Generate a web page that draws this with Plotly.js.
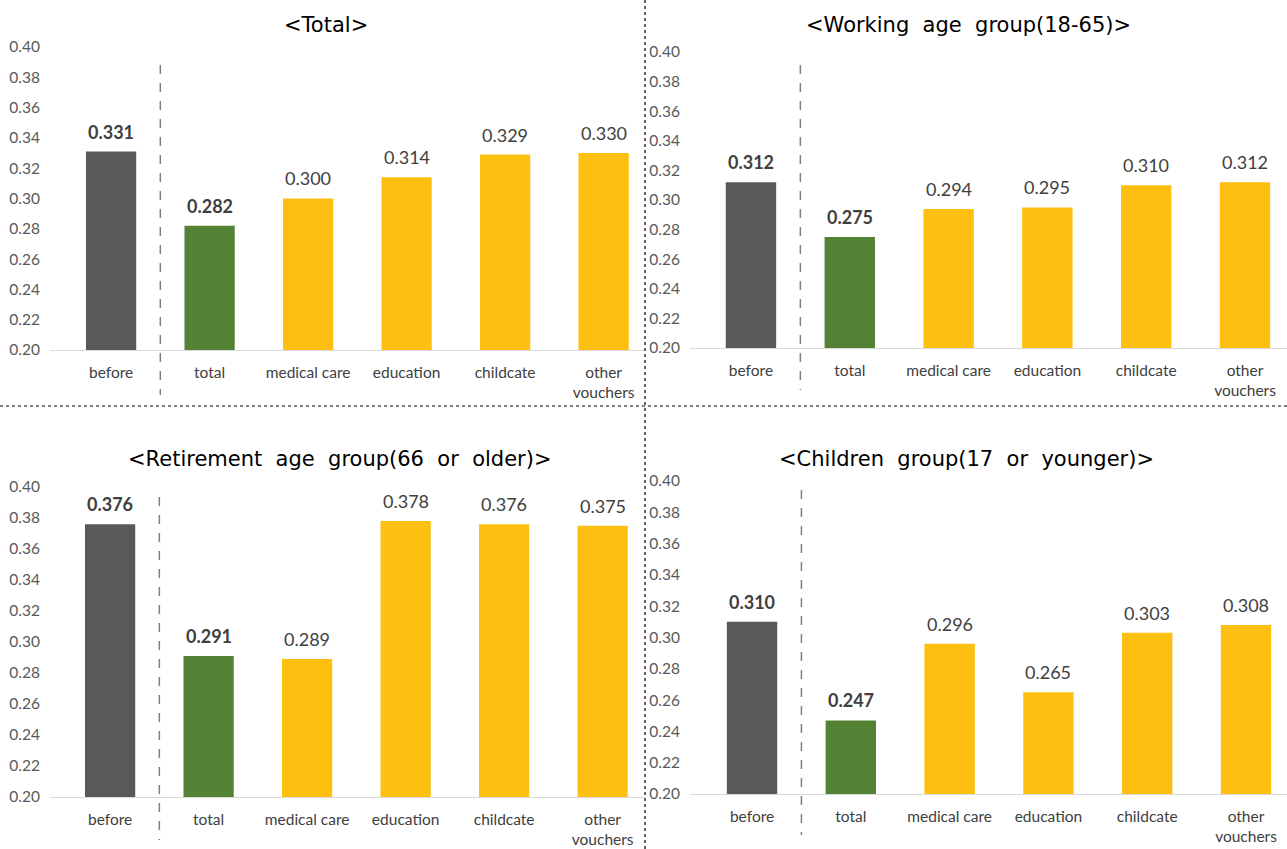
<!DOCTYPE html>
<html><head><meta charset="utf-8">
<script src="https://cdn.plot.ly/plotly-3.0.1.min.js"></script>
<style>html,body{margin:0;padding:0;background:#fff}#c{width:1287px;height:849px}</style>
</head><body><div id="c"></div>
<script>
const categories = ["before","total","medical care","education","childcate","other<br>vouchers"];
const titles = ["<Total>","<Working  age  group(18-65)>","<Retirement  age  group(66  or  older)>","<Children  group(17  or  younger)>"];
const totalVals = [0.331,0.282,0.300,0.314,0.329,0.330];
const workingVals = [0.312,0.275,0.294,0.295,0.310,0.312];
const retirementVals = [0.376,0.291,0.289,0.378,0.376,0.375];
const childrenVals = [0.310,0.247,0.296,0.265,0.303,0.308];
const yTicks = [0.20,0.22,0.24,0.26,0.28,0.30,0.32,0.34,0.36,0.38,0.40];

const W=1287,H=849;
const barColors = ["#595959","#548235","#FDC010","#FDC010","#FDC010","#FDC010"];
const panels = [
  {vals: totalVals, xd:[50,645], xr:[-0.62,5.42], yd:[350,47], title:titles[0], tx:326, ty:25, dash:[65,395]},
  {vals: workingVals, xd:[690,1287], xr:[-0.617,5.425], yd:[348,52], title:titles[1], tx:968, ty:25, dash:[65,390]},
  {vals: retirementVals, xd:[50,645], xr:[-0.61,5.43], yd:[797,487], title:titles[2], tx:340, ty:459, dash:[497,840]},
  {vals: childrenVals, xd:[690,1287], xr:[-0.628,5.415], yd:[794,481], title:titles[3], tx:967, ty:459, dash:[490,835]}
];
const F = "Lato, 'Open Sans', sans-serif";
const traces=[]; const layout={width:W,height:H,margin:{l:0,r:0,t:0,b:0},paper_bgcolor:"#fff",plot_bgcolor:"rgba(0,0,0,0)",showlegend:false,bargap:0.49,shapes:[],annotations:[],font:{family:F}};
panels.forEach((p,i)=>{
  const n = i===0?"":String(i+1);
  traces.push({type:"bar",x:categories,y:p.vals.map(v=>v-0.2),base:0.2,xaxis:"x"+n,yaxis:"y"+n,
    marker:{color:barColors,line:{width:0}},hoverinfo:"skip"});
  p.vals.forEach((v,j)=>{
    layout.annotations.push({xref:"x"+n,yref:"y"+n,x:categories[j],y:v,yanchor:"bottom",yshift:7,showarrow:false,
      text: j<2?"<b>"+v.toFixed(3)+"</b>":v.toFixed(3),font:{size:18,color:"#404040",family:F}});
  });
  layout["xaxis"+n]={domain:[p.xd[0]/W,p.xd[1]/W],range:p.xr,anchor:"y"+n,type:"category",showgrid:false,zeroline:false,
    showline:true,linecolor:"#D9D9D9",linewidth:1,ticks:"outside",ticklen:8,tickcolor:"rgba(0,0,0,0)",
    tickfont:{size:15.5,color:"#404040",family:F},fixedrange:true};
  layout["yaxis"+n]={domain:[1-p.yd[0]/H,1-p.yd[1]/H],range:[0.2,0.4],anchor:"x"+n,showgrid:false,zeroline:false,showline:false,
    tickvals:yTicks,ticktext:yTicks.map(v=>v.toFixed(2)),ticks:"outside",ticklen:6,tickcolor:"rgba(0,0,0,0)",
    tickfont:{size:15.5,color:"#595959",family:F},fixedrange:true};
  layout.shapes.push({type:"line",xref:"x"+n,x0:0.5,x1:0.5,yref:"paper",y0:1-p.dash[0]/H,y1:1-p.dash[1]/H,line:{color:"#7F7F7F",width:1.5,dash:"dash"}});
  layout.annotations.push({text:p.title,xref:"paper",yref:"paper",x:p.tx/W,y:1-p.ty/H,xanchor:"center",yanchor:"middle",showarrow:false,
    font:{size:21,color:"#000",family:"'DejaVu Sans', sans-serif"}});
});
layout.shapes.push({type:"line",xref:"paper",yref:"paper",x0:0,x1:1,y0:1-406/H,y1:1-406/H,line:{color:"#000",width:1.2,dash:"dot"}});
layout.shapes.push({type:"line",xref:"paper",yref:"paper",x0:645/W,x1:645/W,y0:0,y1:1,line:{color:"#000",width:1.2,dash:"dot"}});
Plotly.newPlot("c",traces,layout,{staticPlot:true,displayModeBar:false});
</script></body></html>
